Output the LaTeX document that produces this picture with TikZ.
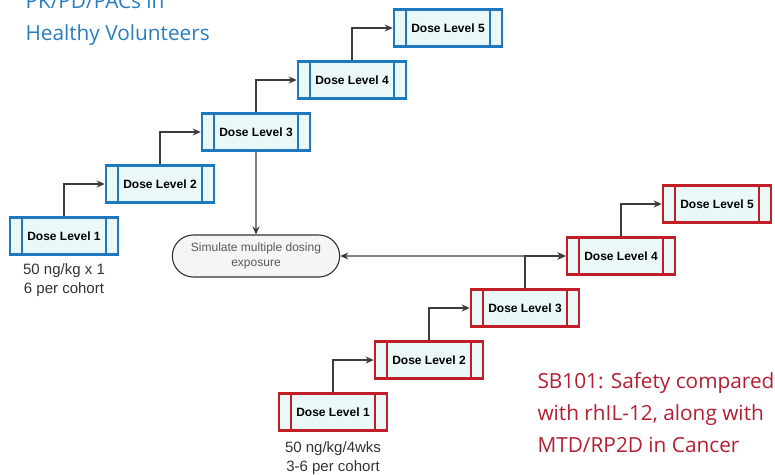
\documentclass[tikz,border=0pt]{standalone}
\usepackage{fontspec}
\setmainfont{Liberation Sans}
\newfontfamily\titlefont{Open Sans}
\usetikzlibrary{positioning,shapes.misc,arrows.meta}

\definecolor{hvblue}{RGB}{30,120,190}
\definecolor{cared}{RGB}{190,30,40}
\definecolor{boxfill}{RGB}{234,248,248}
\definecolor{linkgray}{RGB}{60,60,60}
\definecolor{titleblue}{RGB}{40,125,190}
\definecolor{titlered}{RGB}{180,30,50}

\tikzset{
  dose/.style={draw=#1, line width=2.6pt, fill=boxfill, inner sep=0pt,
    minimum width=108pt, minimum height=36.5pt,
    font=\bfseries\fontsize{12}{14}\selectfont,
    path picture={\draw[#1, line width=2.4pt]
      ([xshift=12pt]path picture bounding box.north west) -- ([xshift=12pt]path picture bounding box.south west)
      ([xshift=-12pt]path picture bounding box.north east) -- ([xshift=-12pt]path picture bounding box.south east);}},
  link/.style={draw=linkgray, line width=1.4pt, -{Stealth[length=8pt,width=7pt]}},
  note/.style={align=center, text=black!80, font=\fontsize{15}{18.5}\selectfont},
  headline/.style={anchor=west, align=left, font=\titlefont\fontsize{20.8}{32}\selectfont}
}

\begin{document}
\begin{tikzpicture}[x=1pt,y=-1pt,node distance=2cm,on grid]
   \useasboundingbox (0,0) rectangle (775,474);

   % healthy volunteers
   \node[dose=hvblue] (B1) at (64,236) {Dose Level 1};
   \node[dose=hvblue] (B2) [above right=52pt and 96pt of B1] {Dose Level 2};
   \node[dose=hvblue] (B3) [above right=52pt and 96pt of B2] {Dose Level 3};
   \node[dose=hvblue] (B4) [above right=52pt and 96pt of B3] {Dose Level 4};
   \node[dose=hvblue] (B5) [above right=52pt and 96pt of B4] {Dose Level 5};
   \node[note] (B1note) [below=44pt of B1] {50 ng/kg x 1\\6 per cohort};

   % cancer patients
   \node[dose=cared] (R1) at (333,412) {Dose Level 1};
   \node[dose=cared] (R2) [above right=52pt and 96pt of R1] {Dose Level 2};
   \node[dose=cared] (R3) [above right=52pt and 96pt of R2] {Dose Level 3};
   \node[dose=cared] (R4) [above right=52pt and 96pt of R3] {Dose Level 4};
   \node[dose=cared] (R5) [above right=52pt and 96pt of R4] {Dose Level 5};
   \node[note] (R1note) [below=46pt of R1] {50 ng/kg/4wks\\3-6 per cohort};

   \node[rounded rectangle, draw=black!80, line width=1.1pt, fill=black!4,
         minimum width=174pt, minimum height=42pt, align=center, text=black!65,
         font=\fontsize{12}{15}\selectfont] (sim) [below=124pt of B3]
         {Simulate multiple dosing\\exposure};

   \node[headline, text=titleblue] (hvtitle) at (22,19) {PK/PD/PACs in\\Healthy Volunteers};
   \node[headline, text=titlered] (catitle) at (534,413) {SB101: Safety compared\\with rhIL-12, along with\\MTD/RP2D in Cancer};

   \draw[link] (B1) |- (B2);
   \draw[link] (B2) |- (B3);
   \draw[link] (B3) |- (B4);
   \draw[link] (B4) |- (B5);
   \draw[link] (B3) -- (sim);

   \draw[link] (R1) |- (R2);
   \draw[link] (R2) |- (R3);
   \draw[link] (R3) |- (R4);
   \draw[link] (R4) |- (R5);
   \draw[link, {Stealth[length=8pt,width=7pt]}-{Stealth[length=8pt,width=7pt]}] (sim) -- (R4);
\end{tikzpicture}
\end{document}
